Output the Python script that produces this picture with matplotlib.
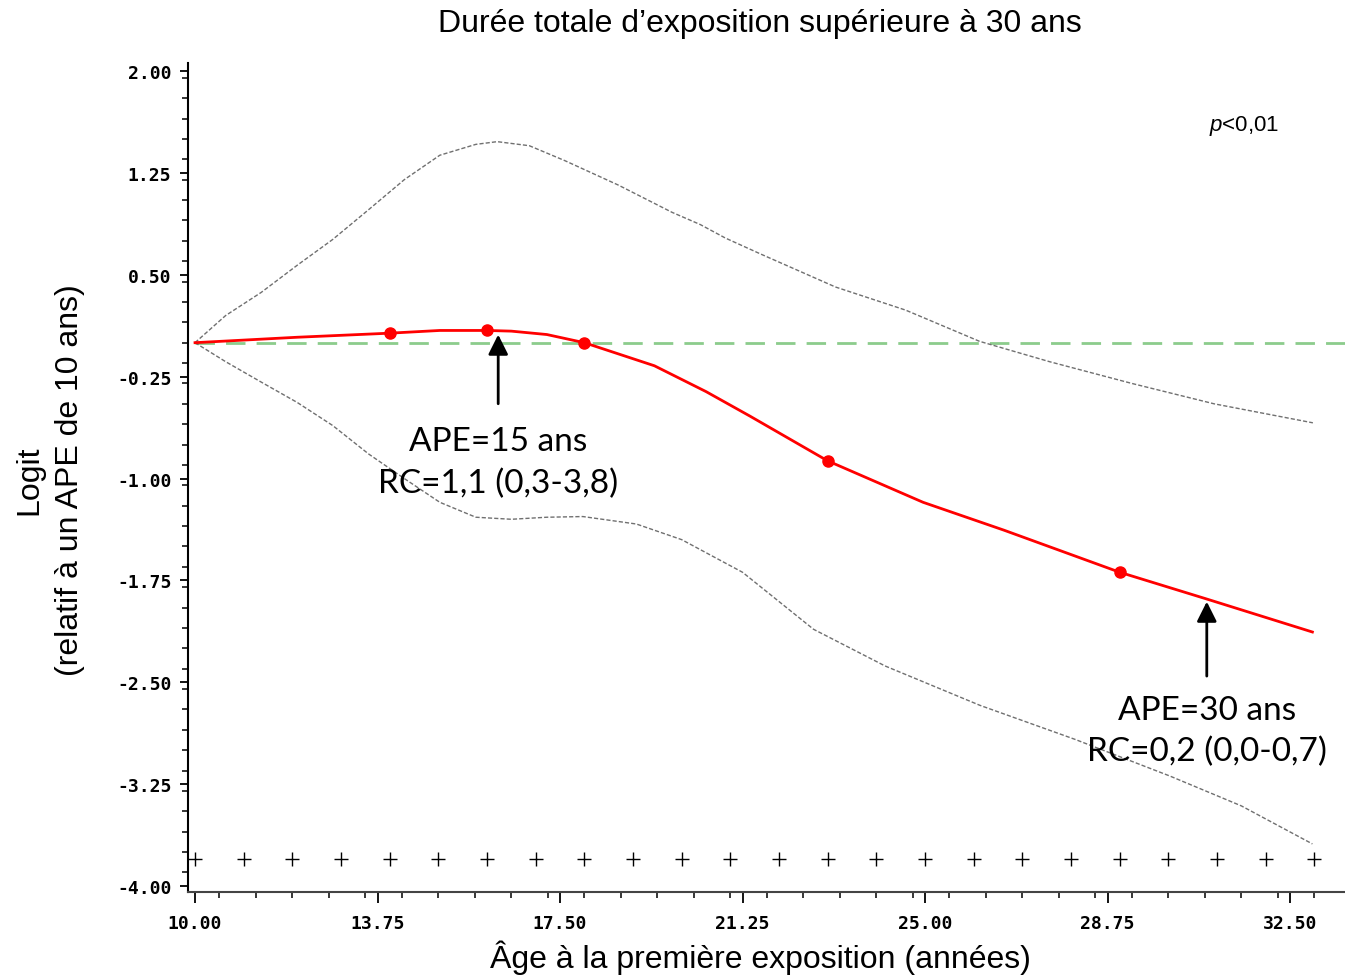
import matplotlib
matplotlib.use("Agg")
import matplotlib.pyplot as plt
from matplotlib.ticker import MultipleLocator, FixedLocator

plt.rcParams['mathtext.fontset'] = 'custom'
plt.rcParams['mathtext.it'] = 'Liberation Sans:italic'
plt.rcParams['mathtext.rm'] = 'Liberation Sans'

# estimated curve (logit relative to APE of 10 years)
est_x = [10.0, 12.1, 14.0, 15.03, 16.0, 16.5, 17.23, 18.0, 19.44, 20.5, 21.4,
         23.0, 24.96, 26.62, 29.0, 30.77, 32.96]
est_y = [0.0, 0.04, 0.07, 0.09, 0.09, 0.085, 0.06, 0.0, -0.17, -0.36, -0.54,
         -0.87, -1.175, -1.38, -1.69, -1.885, -2.13]

# knots shown as dots
knot_x = [14.0, 16.0, 18.0, 23.0, 29.0]
knot_y = [0.07, 0.09, 0.0, -0.87, -1.69]

# upper confidence band
up_x = [10.0, 10.63, 11.36, 12.10, 12.83, 13.57, 14.30, 15.03, 15.77, 16.21,
        16.87, 17.60, 18.70, 19.80, 20.38, 20.90, 21.64, 23.16, 24.60, 26.12,
        27.56, 29.25, 30.94, 32.97]
up_y = [0.0, 0.20, 0.37, 0.57, 0.76, 0.98, 1.20, 1.38, 1.46, 1.48,
        1.45, 1.34, 1.16, 0.96, 0.87, 0.77, 0.65, 0.41, 0.24, 0.01,
        -0.14, -0.30, -0.45, -0.59]

# lower confidence band
lo_x = [10.0, 10.63, 11.36, 12.1, 12.83, 13.57, 14.3, 15.03, 15.77, 16.5,
        17.23, 17.97, 19.07, 20.0, 21.25, 22.71, 24.18, 26.13, 28.08, 30.03,
        31.5, 32.96]
lo_y = [0.0, -0.14, -0.29, -0.44, -0.61, -0.82, -1.00, -1.175, -1.285, -1.30,
        -1.285, -1.28, -1.335, -1.45, -1.69, -2.11, -2.38, -2.67, -2.92, -3.19,
        -3.41, -3.69]

# observed ages (rug)
rug_x = list(range(10, 34))
rug_level = -3.80

fig = plt.figure(figsize=(13.45, 9.78), dpi=100)
ax = fig.add_axes([188 / 1345, 85 / 978, 1 - 188 / 1345, 829 / 978])

ax.axhline(0, xmin=(10 - 9.856) / (33.63 - 9.856), color='#8ccc8c', lw=2,
           dashes=(7, 4), zorder=1)
ax.plot(up_x, up_y, color='#707070', lw=1.0, dashes=(3, 1.5), zorder=2)
ax.plot(lo_x, lo_y, color='#707070', lw=1.0, dashes=(3, 1.5), zorder=2)
ax.plot(est_x, est_y, color='#ff0000', lw=2, zorder=3)
ax.plot(knot_x, knot_y, 'o', color='#ff0000', ms=8, zorder=4)
ax.plot(rug_x, [rug_level] * len(rug_x), '+', color='black', ms=10, mew=1)

ax.set_xlim(9.856, 33.63)
ax.set_ylim(-4.044, 2.059)

xt = [10.0, 13.75, 17.5, 21.25, 25.0, 28.75, 32.5]
yt = [-4.0, -3.25, -2.5, -1.75, -1.0, -0.25, 0.5, 1.25, 2.0]
ax.xaxis.set_major_locator(FixedLocator(xt))
ax.yaxis.set_major_locator(FixedLocator(yt))
ax.xaxis.set_minor_locator(MultipleLocator(0.75))
ax.yaxis.set_minor_locator(MultipleLocator(0.15))
ax.set_xticklabels(['%.2f' % v for v in xt])
ax.set_yticklabels(['%.2f' % v for v in yt])
for lab in ax.get_xticklabels() + ax.get_yticklabels():
    lab.set_fontfamily('DejaVu Sans Mono')
    lab.set_fontweight('bold')
    lab.set_fontsize(13)
ax.tick_params(which='major', length=8, width=1.3, pad=8)
ax.tick_params(which='minor', length=4, width=1.1)
ax.tick_params(axis='y', which='major', length=6, pad=6)

for s in ['top', 'right']:
    ax.spines[s].set_visible(False)
ax.spines['left'].set_linewidth(1.5)
ax.spines['bottom'].set_linewidth(1.5)
ax.spines['bottom'].set_color('#444444')

# annotations
ax.annotate('', xy=(16.23, 0.08), xytext=(16.23, -0.47),
            arrowprops=dict(arrowstyle='-|>', color='black', lw=2,
                            mutation_scale=30))
ax.annotate('', xy=(30.79, -1.886), xytext=(30.79, -2.475),
            arrowprops=dict(arrowstyle='-|>', color='black', lw=2,
                            mutation_scale=30))
ax.text(16.23, -0.878, 'APE=15 ans\nRC=1,1 (0,3-3,8)', ha='center', va='center',
        fontsize=24, family='Lato', linespacing=1.45)
ax.text(30.79, -2.858, 'APE=30 ans\nRC=0,2 (0,0-0,7)', ha='center', va='center',
        fontsize=24, family='Lato', linespacing=1.45)
ax.text(31.55, 1.60, '$p$<0,01', ha='center', va='center', fontsize=16,
        family='Liberation Sans')

fig.text(760 / 1345, 1 - 24 / 978, 'Durée totale d\u2019exposition supérieure à 30 ans',
         ha='center', va='center', fontsize=23, family='Liberation Sans')
fig.text(760 / 1345, 1 - 958 / 978, 'Âge à la première exposition (années)',
         ha='center', va='center', fontsize=23, family='Liberation Sans')
fig.text(50 / 1345, 1 - 480 / 978, 'Logit\n(relatif à un APE de 10 ans)',
         ha='center', va='center', rotation=90, fontsize=23,
         family='Liberation Sans', linespacing=1.45)

fig.savefig('out.png', dpi=100)
